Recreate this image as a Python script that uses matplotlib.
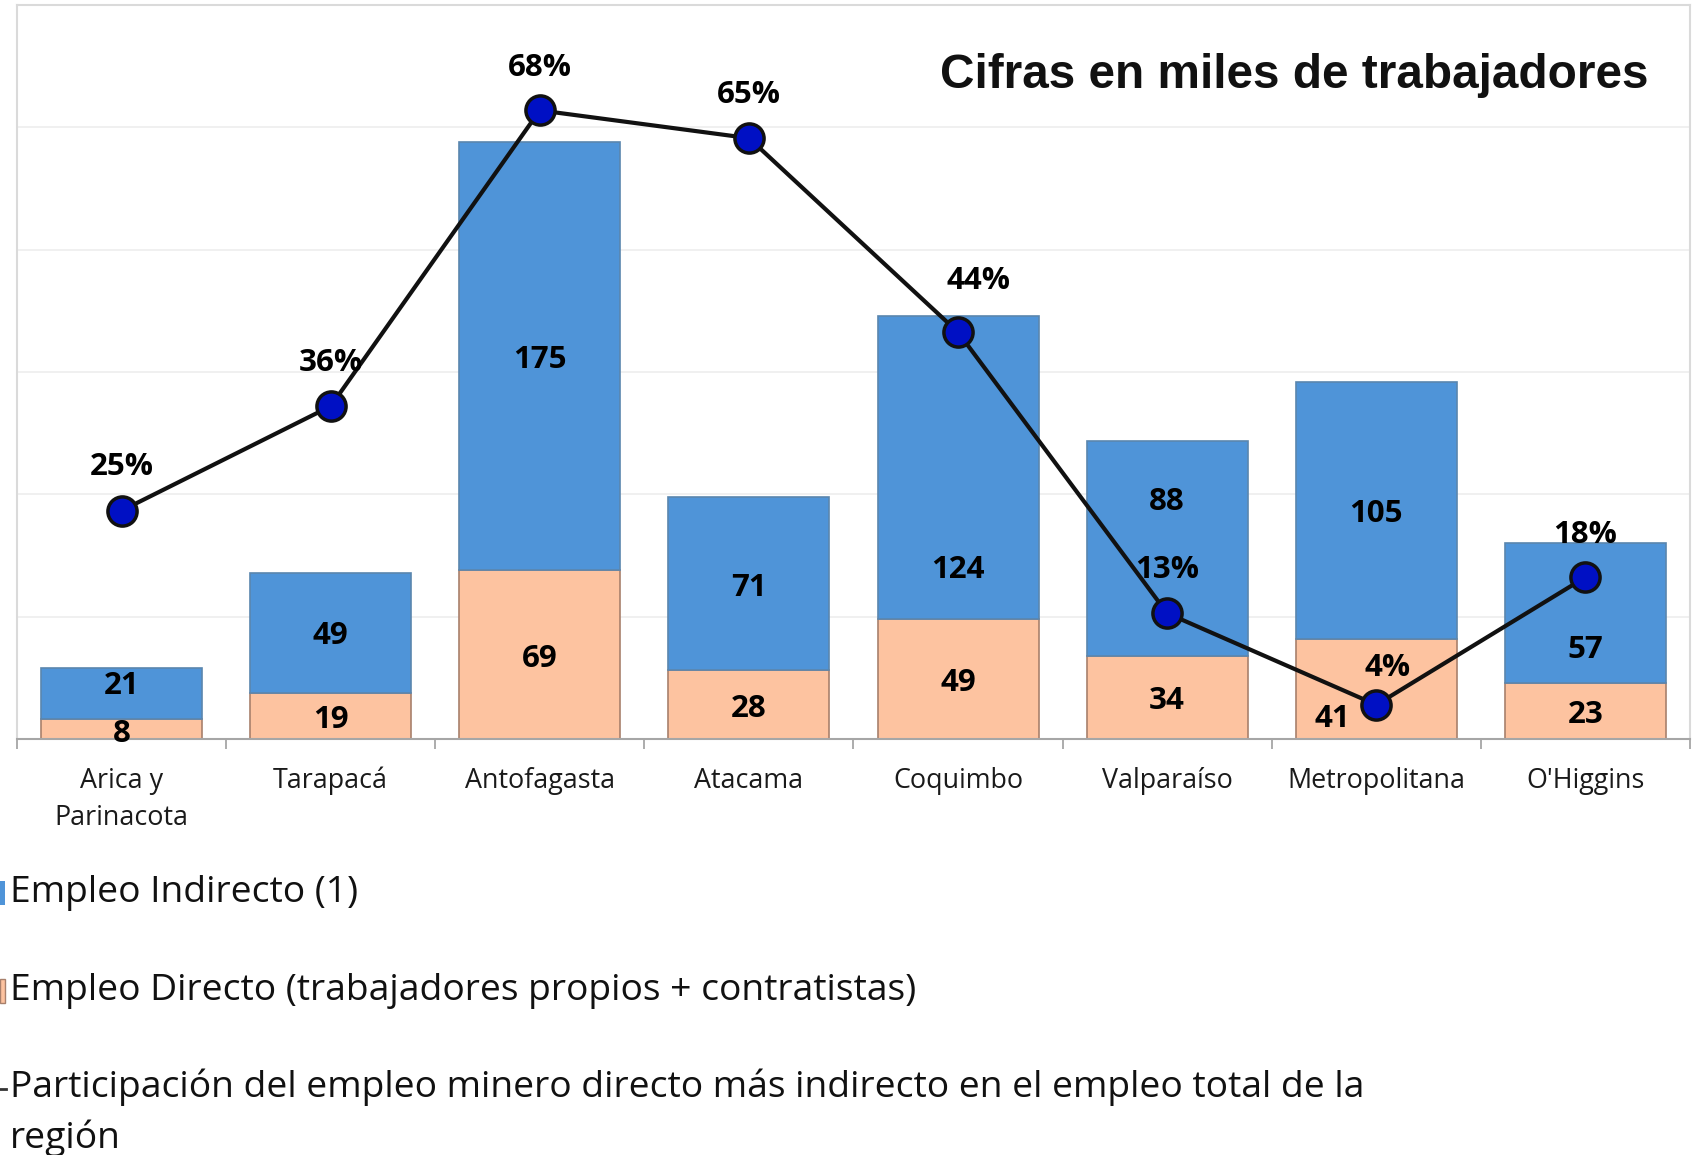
import matplotlib
matplotlib.use("Agg")
import matplotlib.pyplot as plt
from matplotlib.patches import Rectangle
from matplotlib.lines import Line2D
import numpy as np

# ---------------- data ----------------
regions = ["Arica y\nParinacota", "Tarapacá", "Antofagasta", "Atacama",
           "Coquimbo", "Valparaíso", "Metropolitana", "O'Higgins"]
directo = [8, 19, 69, 28, 49, 34, 41, 23]
indirecto = [21, 49, 175, 71, 124, 88, 105, 57]
participacion = [0.247, 0.36, 0.68, 0.65, 0.44, 0.136, 0.037, 0.175]
pct_labels = ["25%", "36%", "68%", "65%", "44%", "13%", "4%", "18%"]

legend_labels = ["Empleo Indirecto (1)",
                 "Empleo Directo (trabajadores propios + contratistas)",
                 "Participación del empleo minero directo más indirecto en el empleo total de la\nregión"]
title_text = "Cifras en miles de trabajadores"

# label placement tweaks (style only)
ind_label_dy = [4.7, 0, 0, 0, -40.5, 20.6, 0, -13.6]       # data units
dir_label_dx = [0, 0, 0, 0, 0, 0, -0.21, 0]                 # category units
dir_label_dy = [-0.4, 0, 0, 0, 0, 0, -10.7, 0]
pct_offsets = [(0, 31.4), (0, 31.4), (0, 30.7), (0, 31.4), (14.6, 37.2),
               (0, 31.4), (8, 26.3), (0, 30.7)]  # points

# ---------------- style ----------------
BLUE = "#4F94D8"
BLUE_EDGE = "#5A86AE"
PEACH = "#FDC3A0"
PEACH_EDGE = "#A8806C"
MARK = "#0010C4"

W, H = 1706, 1155
fig = plt.figure(figsize=(W / 100, H / 100), dpi=100)
ax = fig.add_axes([17 / W, 1 - 739 / H, (1690 - 17) / W, (739 - 5) / H])

x = np.arange(len(regions))
bw = 0.77
ax.bar(x, directo, bw, color=PEACH, edgecolor=PEACH_EDGE, linewidth=1.2, zorder=2)
ax.bar(x, indirecto, bw, bottom=directo, color=BLUE, edgecolor=BLUE_EDGE, linewidth=1.2, zorder=2)

ax.set_xlim(-0.5, len(regions) - 0.5)
ax.set_ylim(0, 300)
ax.set_yticks(np.arange(50, 300, 50))
ax.yaxis.grid(True, color="#EFEFEF", linewidth=1.3, zorder=0)
ax.set_axisbelow(True)

ax.set_xticks(x)
ax.set_xticklabels(regions, fontfamily="Open Sans", fontsize=19.4, color="#1A1A1A",
                   linespacing=1.45)
ax.tick_params(axis="x", which="major", length=0, pad=20)
ax.set_xticks(np.arange(-0.5, len(regions), 1.0), minor=True)
ax.tick_params(axis="x", which="minor", length=7, width=1.3, color="#A6A6A6", direction="out")

for s in ["top", "left", "right"]:
    ax.spines[s].set_color("#DADADA")
    ax.spines[s].set_linewidth(1.5)
ax.spines["bottom"].set_color("#A6A6A6")
ax.spines["bottom"].set_linewidth(1.5)

# bar value labels
lab_kw = dict(ha="center", va="center", fontfamily="Open Sans", fontweight="bold",
              fontsize=22.5, color="black", zorder=5)
shift = -1.6
for i in range(len(regions)):
    ax.text(x[i] + dir_label_dx[i], directo[i] / 2 + dir_label_dy[i] + shift,
            str(directo[i]), **lab_kw)
    ax.text(x[i], directo[i] + indirecto[i] / 2 + ind_label_dy[i] + shift,
            str(indirecto[i]), **lab_kw)

# secondary axis line
ax2 = ax.twinx()
ax2.set_ylim(0, 0.794)
ax2.axis("off")
ax2.plot(x, participacion, color="#111111", linewidth=3, marker="o", markersize=21,
         markerfacecolor=MARK, markeredgecolor="#111111", markeredgewidth=2.5, zorder=4)
for i in range(len(regions)):
    ax2.annotate(pct_labels[i], (x[i], participacion[i]), xytext=pct_offsets[i],
                 textcoords="offset points", ha="center", va="center",
                 fontfamily="Open Sans", fontweight="bold", fontsize=22.5, color="black",
                 zorder=6)

# twinx re-enables left ticks on ax; hide them afterwards
ax.tick_params(axis="y", which="both", left=False, right=False,
               labelleft=False, labelright=False)

# title
fig.text(1649 / W, 1 - 76 / H, title_text, ha="right", va="center",
         fontfamily="Liberation Sans", fontweight="bold", fontsize=34.4, color="#111111")

# legend (manual, markers cut at the left edge like the reference)
rows_y = [893, 991, 1089]
fig.add_artist(Rectangle((0, 1 - (rows_y[0] + 12) / H), 5 / W, 24 / H,
                         transform=fig.transFigure, facecolor=BLUE, edgecolor="none"))
fig.add_artist(Rectangle((0, 1 - (rows_y[1] + 12) / H), 5 / W, 24 / H,
                         transform=fig.transFigure, facecolor=PEACH, edgecolor=PEACH_EDGE,
                         linewidth=1))
fig.add_artist(Line2D([0, 6 / W], [1 - rows_y[2] / H, 1 - rows_y[2] / H],
                      transform=fig.transFigure, color="#333333", linewidth=2))
for i in range(2):
    fig.text(10 / W, 1 - rows_y[i] / H, legend_labels[i], ha="left", va="center",
             fontfamily="Open Sans", fontsize=26.8, color="#111111")
fig.text(10 / W, 1 - (rows_y[2] - 20) / H, legend_labels[2], ha="left", va="top",
         fontfamily="Open Sans", fontsize=26.8, color="#111111", linespacing=1.45)

fig.savefig("out.png", dpi=100)
